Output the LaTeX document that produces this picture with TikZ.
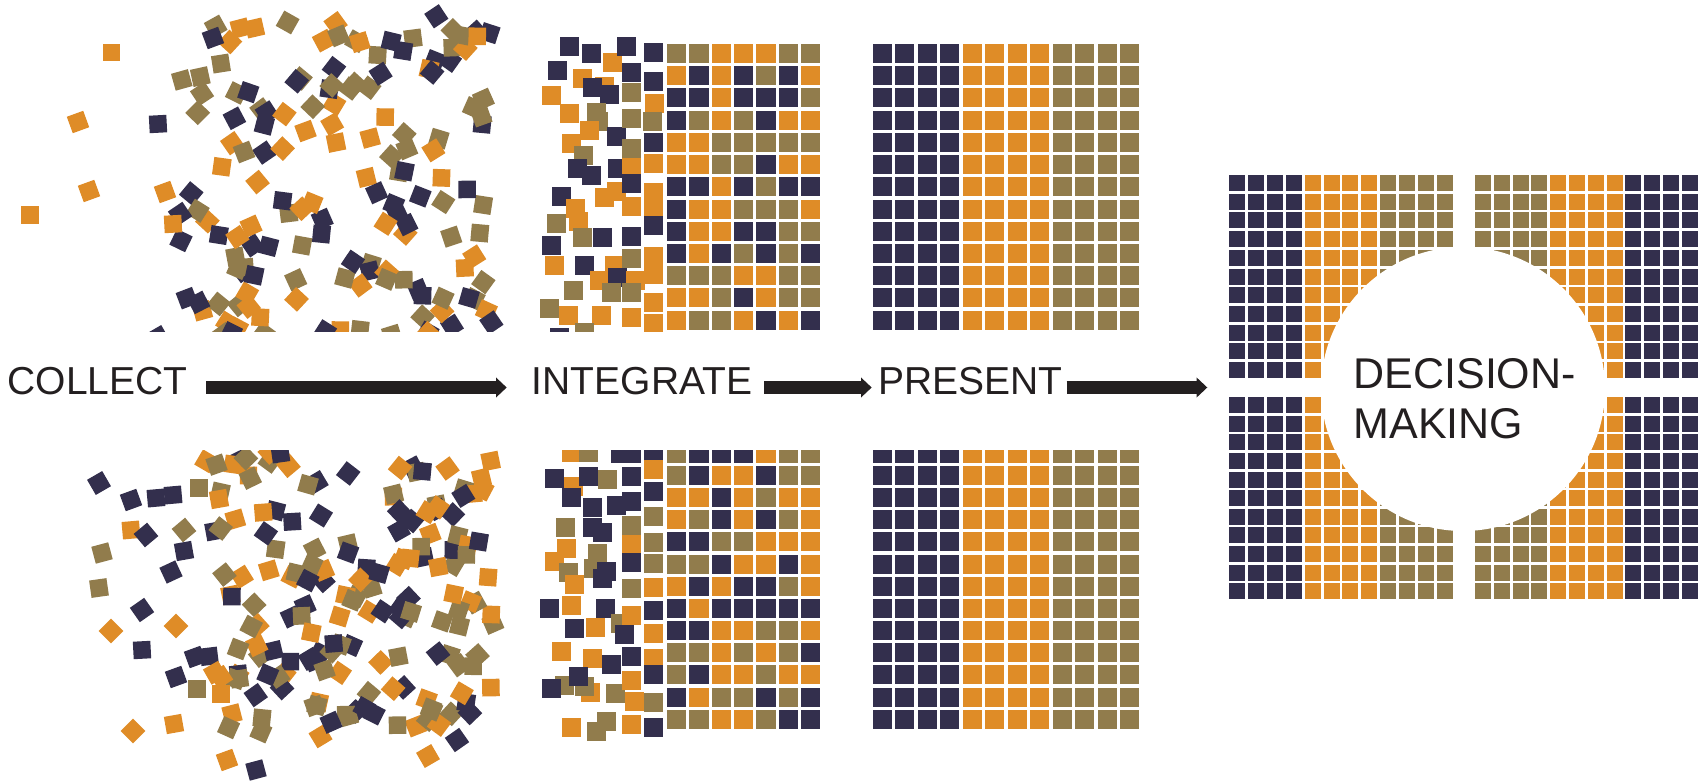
\documentclass[tikz,border=0pt]{standalone}
\usepackage{fontspec}
\setmainfont{Liberation Sans}
\usetikzlibrary{arrows.meta,calc}
\definecolor{cn}{HTML}{332F4D}
\definecolor{co}{HTML}{DF8C27}
\definecolor{cg}{HTML}{917C4C}
\colorlet{c1}{cn}
\colorlet{c2}{co}
\colorlet{c3}{cg}
\definecolor{ink}{HTML}{231F20}
\begin{document}
\begin{tikzpicture}[x=1pt,y=-1pt,
  lab/.style={font=\fontsize{39}{39}\selectfont, text=ink, inner sep=0pt, anchor=base west},
  dmlab/.style={font=\fontsize{43}{43}\selectfont, text=ink, inner sep=0pt, anchor=base west},
  bigarrow/.style={draw=ink, line width=13pt, -{Triangle[width=19.4pt,length=10.7pt]}},
]
\useasboundingbox (0,0) rectangle (1703,782);

% ---------------- top half ----------------
\begin{scope}
\clip (0,0) rectangle (1703,331);
% collect (top) scattered squares
\pgfmathsetseed{271}
\foreach \i in {1,...,150}{
  \pgfmathsetmacro{\px}{180+315*rnd}
  \pgfmathsetmacro{\py}{15+322*rnd}
  \pgfmathsetmacro{\ang}{90*rnd}
  \pgfmathrandominteger{\cc}{1}{3}
  \fill[c\cc, shift={(\px,\py)}, rotate=\ang] (-8.75,-8.75) rectangle (8.75,8.75);
}
\foreach \px/\py/\cc/\ang in {111.6/52.3/o/0, 78/122/o/20, 89/191/o/20, 30/215/o/0,
  158/124/n/3, 158/337/n/30, 165/192/o/20, 173/224/o/3}{
  \fill[c\cc, shift={(\px,\py)}, rotate=\ang] (-8.75,-8.75) rectangle (8.75,8.75);
}
% integrate (top) loose squares
\foreach \X/\Y/\cc in {
  60/20/n, 126/42/n, 190/68/o, 24/93/n, 100/118/o, 165/140/o, 130/145/n, 180/165/n,
  6/168/o, 140/218/g, 148/246/g, 60/222/o, 120/272/o, 200/291/n, 66/312/o, 102/348/g,
  84/387/n, 126/408/n, 204/387/n, 200/457/o, 165/474/o, 36/471/n, 78/506/o, 86/546/o,
  20/552/g, 100/594/g, 160/594/n, 6/618/n, 16/678/o, 105/678/n, 195/678/o, 150/723/o,
  204/714/n, 72/753/g, 186/760/g, 0/807/g, 56/828/o, 156/828/o, 105/879/g, 30/893/n,
  231/20/n, 246/99/n, 246/159/g, 246/238/g, 246/327/g, 246/383/o, 246/432/n, 246/500/o,
  246/590/n, 246/657/g, 258/722/o, 246/760/g, 246/833/o,
  312/38/n, 312/126/n, 315/193/o, 309/246/g, 312/309/n, 312/372/o, 312/459/o, 312/500/o,
  312/558/n, 312/651/o, 312/705/o, 312/789/o, 312/851/o}{
  \fill[c\cc] (540+\X/3, 30+\Y/3) rectangle ++(19,19);
}
\end{scope}

% integrate (top) grid
\foreach \row [count=\i from 0] in {
  {g,g,o,o,o,g,g},{o,n,o,n,g,n,o},{n,n,o,n,n,n,g},{n,g,o,g,n,o,o},
  {o,o,g,g,g,g,g},{o,o,g,g,n,o,o},{n,n,o,n,g,n,n},{n,o,o,g,g,g,o},
  {n,o,o,n,n,g,g},{n,o,n,g,n,g,n},{g,g,g,o,o,g,g},{o,o,g,n,o,g,g},
  {o,g,g,o,n,o,n}}{
  \foreach \cc [count=\j from 0] in \row {
    \fill[c\cc] (667+22.33*\j, 44+22.22*\i) rectangle ++(19.3,19);
  }
}

% present (top) grid
\foreach \j in {0,...,11}{
  \pgfmathtruncatemacro{\col}{\j<4 ? 1 : (\j<8 ? 2 : 3)}
  \foreach \i in {0,...,12}{
    \fill[c\col] (872.7+22.48*\j, 44+22.22*\i) rectangle ++(19.3,19);
  }
}

% ---------------- bottom half ----------------
\begin{scope}
\clip (0,450) rectangle (1703,782);
\pgfmathsetseed{977}
\foreach \i in {1,...,165}{
  \pgfmathsetmacro{\px}{205+290*rnd}
  \pgfmathsetmacro{\py}{448+290*rnd}
  \pgfmathsetmacro{\ang}{90*rnd}
  \pgfmathrandominteger{\cc}{1}{3}
  \fill[c\cc, shift={(\px,\py)}, rotate=\ang] (-8.75,-8.75) rectangle (8.75,8.75);
}
\foreach \px/\py/\cc/\ang in {99/483/n/30, 131/500/n/20, 156/498/n/5, 173/495/n/5,
  199/488/g/0, 219/499/o/10, 131/530/o/5, 146/535/n/40, 102/553/g/15, 184/530/g/40,
  184/551/n/10, 99/588/g/8, 171/572/n/25, 142/610/n/35, 111/631/o/45, 142/650/n/3,
  176/626/o/45, 195/657/n/20, 176/677/n/20, 197/689/g/0, 221/694/o/0, 133/731/o/45,
  174/724/o/10, 227/760/o/20, 256/770/n/15, 428/756/o/30, 457/740/n/35}{
  \fill[c\cc, shift={(\px,\py)}, rotate=\ang] (-8.75,-8.75) rectangle (8.75,8.75);
}
% integrate (bottom) loose squares
\foreach \X/\Y/\cc in {
  66/10/o, 117/8/g, 15/87/n, 72/110/o, 117/81/n, 173/89/g, 66/143/n, 129/174/n,
  48/234/g, 130/233/n, 160/250/n, 50/297/o, 16/336/o, 143/311/g, 57/369/g, 133/358/g,
  170/365/n, 158/388/n, 76/406/o, 66/468/o, 0/477/n, 168/477/n, 214/522/g, 225/555/n,
  75/537/n, 138/534/o, 36/606/o, 130/627/o, 186/645/n, 124/728/o, 46/708/g, 105/712/g,
  87/681/n, 6/717/n, 198/732/g, 66/834/o, 170/817/g, 142/845/g,
  212/12/n, 246/12/n, 246/81/n, 200/168/n, 246/156/n, 246/228/g, 246/285/o, 246/339/n,
  246/417/g, 246/497/o, 246/621/n, 246/693/o, 255/756/o, 246/825/o,
  312/12/n, 312/60/o, 312/126/n, 312/201/g, 312/279/g, 312/342/g, 312/414/o, 312/483/n,
  312/552/o, 312/627/o, 312/675/n, 312/759/g, 312/833/n}{
  \fill[c\cc] (540+\X/3, 440+\Y/3) rectangle ++(19,19);
}
% integrate (bottom) grid
\foreach \row [count=\i from 0] in {
  {g,n,n,n,o,g,g},{g,n,o,o,n,g,g},{o,o,n,o,g,o,o},{o,g,n,o,n,g,o},
  {n,n,g,g,o,o,o},{g,g,n,o,o,n,o},{o,n,o,n,n,g,o},{n,o,n,n,n,n,n},
  {n,n,o,o,g,g,o},{g,g,o,g,o,g,n},{g,n,o,o,g,o,o},{n,o,g,g,n,g,n},
  {g,g,o,o,g,n,n}}{
  \foreach \cc [count=\j from 0] in \row {
    \fill[c\cc] (667+22.33*\j, 443.85+22.15*\i) rectangle ++(19.3,19);
  }
}
% present (bottom) grid
\foreach \j in {0,...,11}{
  \pgfmathtruncatemacro{\col}{\j<4 ? 1 : (\j<8 ? 2 : 3)}
  \foreach \i in {0,...,12}{
    \fill[c\col] (872.7+22.48*\j, 443.85+22.15*\i) rectangle ++(19.3,19);
  }
}
\end{scope}

% ---------------- decision-making grid ----------------
\foreach \j in {0,...,11}{
  \pgfmathtruncatemacro{\cl}{\j<4 ? 1 : (\j<8 ? 2 : 3)}
  \pgfmathtruncatemacro{\cr}{\j<4 ? 3 : (\j<8 ? 2 : 1)}
  \foreach \i in {0,...,10}{
    \fill[c\cl] (1229+18.9*\j, 175+18.7*\i) rectangle ++(16,16);
    \fill[c\cl] (1229+18.9*\j, 397+18.63*\i) rectangle ++(16,16);
    \fill[c\cr] (1475+18.8*\j, 175+18.7*\i) rectangle ++(16,16);
    \fill[c\cr] (1475+18.8*\j, 397+18.63*\i) rectangle ++(16,16);
  }
}
\node[circle, fill=white, minimum size=284pt, inner sep=0pt] (circ) at (1463,389) {};

% ---------------- labels and arrows ----------------
\node[lab] (collect) at (7.4,394.3) {COLLECT};
\node[lab] (integrate) at (531.7,394.3) {INTEGRATE};
\node[lab] (present) at (878.3,394.3) {PRESENT};
\node[dmlab] (dm1) at (1353.4,388) {DECISION-};
\node[dmlab] (dm2) at (1353.6,438) {MAKING};

\coordinate (ay) at (0,387.5);
\coordinate (a3end) at (1207.3,387.5);
\draw[bigarrow] ($(collect.east |- ay)+(18.4,0)$) -- ($(integrate.west |- ay)+(-25,0)$);
\draw[bigarrow] ($(integrate.east |- ay)+(12,0)$) -- ($(present.west |- ay)+(-6.6,0)$);
\draw[bigarrow] ($(present.east |- ay)+(3.6,0)$) -- (a3end);
\end{tikzpicture}
\end{document}
